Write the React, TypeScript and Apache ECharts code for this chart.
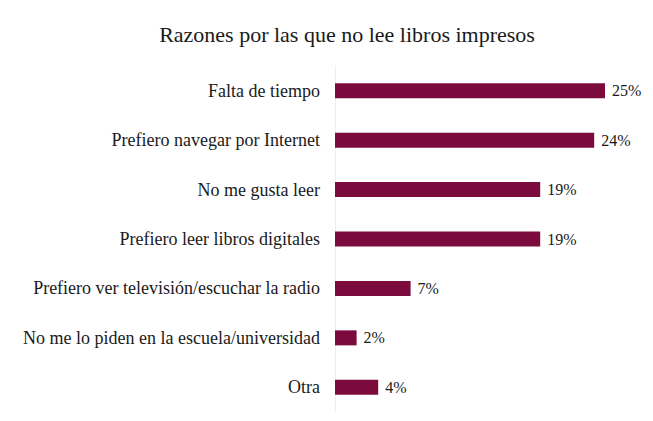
import React, { useEffect, useRef } from "react";
import * as echarts from "echarts";

const titleText = "Razones por las que no lee libros impresos";
const categories = [
  "Falta de tiempo",
  "Prefiero navegar por Internet",
  "No me gusta leer",
  "Prefiero leer libros digitales",
  "Prefiero ver televisión/escuchar la radio",
  "No me lo piden en la escuela/universidad",
  "Otra",
];
const values = [25, 24, 19, 19, 7, 2, 4];

const FONT = "Liberation Serif, Times New Roman, serif";

export default function App() {
  const ref = useRef<HTMLDivElement>(null);
  useEffect(() => {
    if (!ref.current) return;
    const chart = echarts.init(ref.current, undefined, { renderer: "svg" });
    chart.setOption({
      animation: false,
      backgroundColor: "#ffffff",
      title: {
        text: titleText,
        left: 342,
        textAlign: "center",
        top: 18,
        textStyle: { fontFamily: FONT, fontSize: 22, fontWeight: "normal", color: "#1a1a1a" },
      },
      grid: { left: 335, right: 48, top: 66, bottom: 9, containLabel: false },
      xAxis: {
        type: "value",
        min: 0,
        max: 25,
        show: false,
      },
      yAxis: {
        type: "category",
        data: categories,
        inverse: true,
        axisLine: { show: true, lineStyle: { color: "#eeeeee", width: 1 } },
        axisTick: { show: false },
        axisLabel: { margin: 15, fontFamily: FONT, fontSize: 18, color: "#1a1a1a" },
      },
      series: [
        {
          type: "bar",
          data: values,
          barWidth: 15,
          itemStyle: { color: "#7b0b3d" },
          label: {
            show: true,
            position: "right",
            distance: 7,
            formatter: "{c}%",
            fontFamily: FONT,
            fontSize: 16,
            color: "#1a1a1a",
          },
        },
      ],
    });
    return () => chart.dispose();
  }, []);
  return (
    <div
      ref={ref}
      style={{ position: "fixed", left: 0, top: 0, width: 653, height: 421 }}
    />
  );
}
